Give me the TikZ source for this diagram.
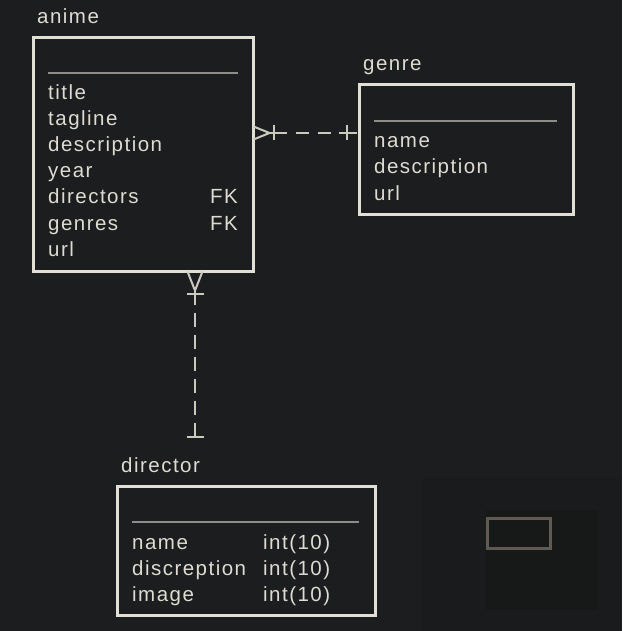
\documentclass[tikz,border=0pt]{standalone}
\usepackage{fontspec}
\usetikzlibrary{fit}
\setmainfont{Liberation Sans}[LetterSpace=7.2]
\definecolor{bg}{HTML}{1C1D1F}
\definecolor{boxline}{HTML}{E2DFD7}
\definecolor{txt}{HTML}{DEDBD3}
\definecolor{sep}{HTML}{8E8C88}
\definecolor{conn}{HTML}{CBC8C0}
\definecolor{mapouter}{HTML}{1A1B1C}
\definecolor{mapinner}{HTML}{171918}
\definecolor{mapbox}{HTML}{5F5B53}
\tikzset{
  tbl/.style={draw=boxline, line width=3pt, fill=bg, rectangle, inner sep=0pt, outer sep=0pt},
  lbl/.style={text=txt, anchor=base west, inner sep=0pt, font=\fontsize{20.5}{24}\selectfont},
  lblr/.style={text=txt, anchor=base east, inner sep=0pt, font=\fontsize{20.5}{24}\selectfont},
  seprule/.style={draw=sep, line width=1.8pt},
  connline/.style={draw=conn, line width=2pt},
}
\begin{document}
\begin{tikzpicture}[x=1pt,y=-1pt]
\useasboundingbox (0,0) rectangle (622,631);
\fill[bg] (0,0) rectangle (622,631);
% minimap
\fill[mapouter] (422,478) rectangle (622,631);
\fill[mapinner] (486,510) rectangle (598,610);
\draw[mapbox, line width=3pt] (487,518.5) rectangle (550,548);

% anime
\node[tbl, fit={(33.5,37.5) (253.5,271.5)}] (anime) {};
\node[lbl] (animet) at (37,24) {anime};
\draw[seprule] (48,73) -- (238,73);
\node[lbl] (a1) at (48,100) {title};
\node[lbl] (a2) at (48,126) {tagline};
\node[lbl] (a3) at (48,152) {description};
\node[lbl] (a4) at (48,178) {year};
\node[lbl] (a5) at (48,204) {directors};
\node[lblr] (a5k) at (238,204) {FK};
\node[lbl] (a6) at (48,230) {genres};
\node[lblr] (a6k) at (238,230) {FK};
\node[lbl] (a7) at (48,256) {url};

% genre
\node[tbl, fit={(359.5,85) (573,214)}] (genre) {};
\node[lbl] (genret) at (363,71) {genre};
\draw[seprule] (374,121) -- (557,121);
\node[lbl] (g1) at (374,148) {name};
\node[lbl] (g2) at (374,174) {description};
\node[lbl] (g3) at (374,200) {url};

% director
\node[tbl, fit={(117.5,486) (375.5,615.5)}] (director) {};
\node[lbl] (directort) at (121,472) {director};
\draw[seprule] (132,522) -- (359,522);
\node[lbl] (d1) at (132,549) {name};
\node[lbl] (d1t) at (263,549) {int(10)};
\node[lbl] (d2) at (132,575) {discreption};
\node[lbl] (d2t) at (263,575) {int(10)};
\node[lbl] (d3) at (132,601) {image};
\node[lbl] (d3t) at (263,601) {int(10)};

% connector anime - genre (crow's foot at anime, one at genre)
\coordinate (ae) at (anime.east |- 0,133);
\coordinate (ge) at (genre.west |- 0,133);
\coordinate (atip) at ([xshift=16pt]ae);
\draw[connline] ([yshift=-6.5pt]ae) -- (atip) -- ([yshift=6.5pt]ae);
\draw[connline] ([xshift=4pt,yshift=-7.5pt]atip) -- ([xshift=4pt,yshift=7.5pt]atip);
\draw[connline] ([xshift=-13pt,yshift=-7.5pt]ge) -- ([xshift=-13pt,yshift=7.5pt]ge);
\draw[connline, dash pattern=on 17pt off 9pt on 13pt off 9pt on 13pt off 8pt on 18pt] (atip) -- (ge);

% connector anime - director
\coordinate (ad) at (anime.south -| 195,0);
\coordinate (dtip) at ([yshift=-19pt]ad);
\coordinate (de) at (195,437);
\draw[connline] ([xshift=-7.5pt]ad) -- (dtip) -- ([xshift=7.5pt]ad);
\draw[connline] ([xshift=-8.5pt,yshift=-3pt]dtip) -- ([xshift=8.5pt,yshift=-3pt]dtip);
\draw[connline] ([xshift=-8.5pt]de) -- ([xshift=8.5pt]de);
\draw[connline, dash pattern=on 14pt off 8pt] (dtip) -- (de);
\end{tikzpicture}
\end{document}
